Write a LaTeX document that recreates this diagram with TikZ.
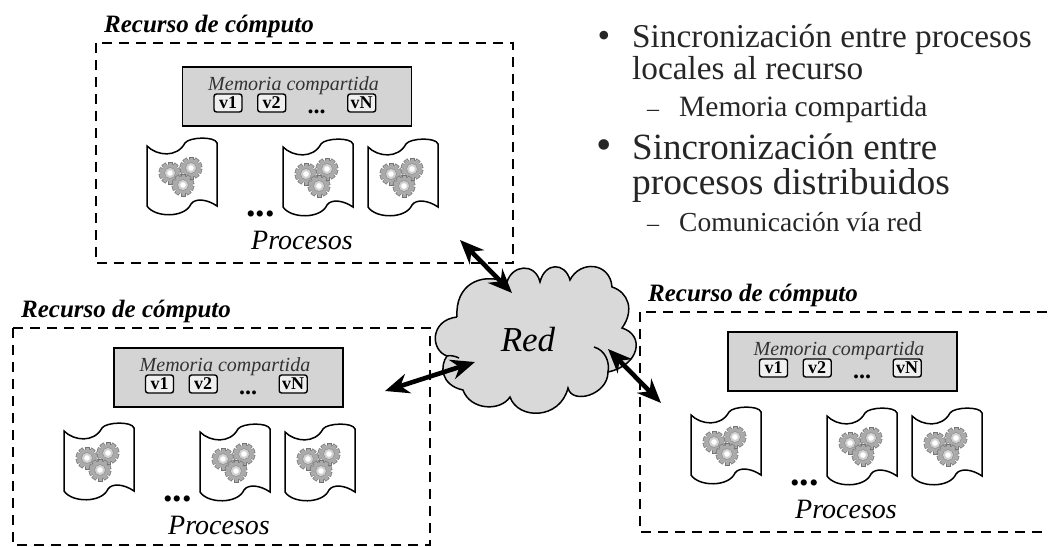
\documentclass[tikz,border=0pt]{standalone}
\usepackage{fontspec}
\setmainfont{Liberation Serif}
\usepackage{tikz}
\usetikzlibrary{arrows.meta}

\tikzset{
  titulo/.style={anchor=base west, inner sep=0, font=\fontsize{25}{25}\selectfont\bfseries\itshape},
  memoria/.style={draw, line width=1.5, fill=black!17, minimum width=229, minimum height=59, inner sep=0},
  casilla/.style={draw, line width=1.4, rounded corners=2.5, fill=black!6, minimum width=28, minimum height=18, inner sep=0, font=\fontsize{18}{18}\selectfont\bfseries},
  puntos/.style={inner sep=0, font=\fontsize{24}{24}\selectfont\bfseries},
  linea/.style={anchor=base west, inner sep=0, text=black!85, font=\fontsize{#1}{#1}\selectfont},
  flecha/.style={{Stealth[length=24,width=20]}-{Stealth[length=24,width=20]}, line width=4.6},
  pics/engrane/.style={code={
    \foreach \a in {0,36,...,144}
      \filldraw [draw=black!55, fill=black!33, line width=.5, rotate=\a] (-2.2,-11) rectangle (2.2,11);
    \fill [black!33] (0,0) circle (8.8);
    \filldraw [draw=black!45, fill=black!18, line width=.5] (0,0) circle (5.5);
    \fill [white] (0,0) circle (2.8);
  }},
  pics/proceso/.style={code={
    \draw [line width=1.5] (0,0) .. controls (10,10) and (30,12) .. (38,-3)
      .. controls (42,-9) and (68,-10) .. (70,-3) -- (70,60)
      .. controls (60,53) and (48,52) .. (44,58)
      .. controls (38,72) and (8,72) .. (0,60) -- cycle;
    \pic at (23,27) {engrane};
    \pic at (44,22) {engrane};
    \pic at (36,39) {engrane};
  }},
  pics/recurso/.style n args={3}{code={
    \node [titulo] (-titulo) at (8,-10.5) {Recurso de cómputo};
    \draw [line width=2.4, dash pattern=on 10 off 7] (0,0) rectangle (417,#3);
    \node [memoria] (-mem) at (201+#1,53.5+#2) {};
    \node [inner sep=0, font=\fontsize{20}{20}\selectfont\itshape, text=black!80] (-memtxt) at (197.5+#1,43+#2) {Memoria compartida};
    \node [casilla] (-v1) at (132+#1,60+#2) {v1};
    \node [casilla] (-v2) at (175.7+#1,60+#2) {v2};
    \node [puntos] (-vdots) at (220.7+#1,69+#2) {...};
    \node [casilla] (-vN) at (265.7+#1,60+#2) {vN};
    \pic (-p1) at (51,103) {proceso};
    \pic (-p2) at (187,104) {proceso};
    \pic (-p3) at (272,104) {proceso};
    \node [inner sep=0, font=\fontsize{38}{38}\selectfont\bfseries] (-pdots) at (164.7,171) {...};
    \node [inner sep=0, font=\fontsize{28}{28}\selectfont\itshape] (-procesos) at (206,197) {Procesos};
  }},
}

\begin{document}
\begin{tikzpicture}[x=1pt, y=-1pt]
  \clip (0,0) rectangle (1048,546);
  \fill [white] (0,0) rectangle (1048,546);

  \pic (r1) at (96,43) {recurso={0}{0}{220}};
  \pic (r2) at (13,328) {recurso={14.5}{-4}{217}};
  \pic (r3) at (640,312) {recurso={1.5}{-4}{220}};

  \draw [line width=1.5, fill=black!15] (457,317)
    .. controls (455,285) and (480,272) .. (507,282)
    .. controls (512,265) and (535,262) .. (540,282)
    .. controls (545,262) and (565,262) .. (570,280)
    .. controls (580,260) and (610,262) .. (612,287)
    .. controls (628,292) and (635,310) .. (622,328)
    .. controls (645,335) and (640,365) .. (608,372)
    .. controls (608,395) and (572,405) .. (568,388)
    .. controls (560,420) and (518,420) .. (510,397)
    .. controls (500,412) and (470,410) .. (463,390)
    .. controls (440,385) and (440,365) .. (447,356)
    .. controls (430,350) and (430,320) .. (457,317);
  \draw [line width=1.5] (447,356) .. controls (450,355) and (455,356) .. (459,358);
  \draw [line width=1.5] (594,347) .. controls (605,350) and (610,362) .. (608,372);
  \node [inner sep=0, font=\fontsize{35}{35}\selectfont\itshape] (red) at (528,340) {Red};

  \coordinate (a1) at (460,240);
  \coordinate (b1) at (512,293);
  \coordinate (a2) at (385,391);
  \coordinate (b2) at (475,362);
  \coordinate (a3) at (661,403);
  \coordinate (b3) at (608,349);
  \draw [flecha] (a1) -- (b1);
  \draw [flecha] (a2) -- (b2);
  \draw [flecha] (a3) -- (b3);

  \node [linea=36] (b1a) at (597.5,47) {•};
  \node [linea=33.3] (l1a) at (632,47) {Sincronización entre procesos};
  \node [linea=33.3] (l1b) at (632,79) {locales al recurso};
  \node [linea=24] (g1) at (647,116) {–};
  \node [linea=29.5] (s1) at (679,116) {Memoria compartida};
  \node [linea=44] (b2a) at (596,159.5) {•};
  \node [linea=37] (l2a) at (632,159) {Sincronización entre};
  \node [linea=37.5] (l2b) at (632,194) {procesos distribuidos};
  \node [linea=24] (g2) at (647,231) {–};
  \node [linea=27.5] (s2) at (679,231) {Comunicación vía red};
\end{tikzpicture}
\end{document}
